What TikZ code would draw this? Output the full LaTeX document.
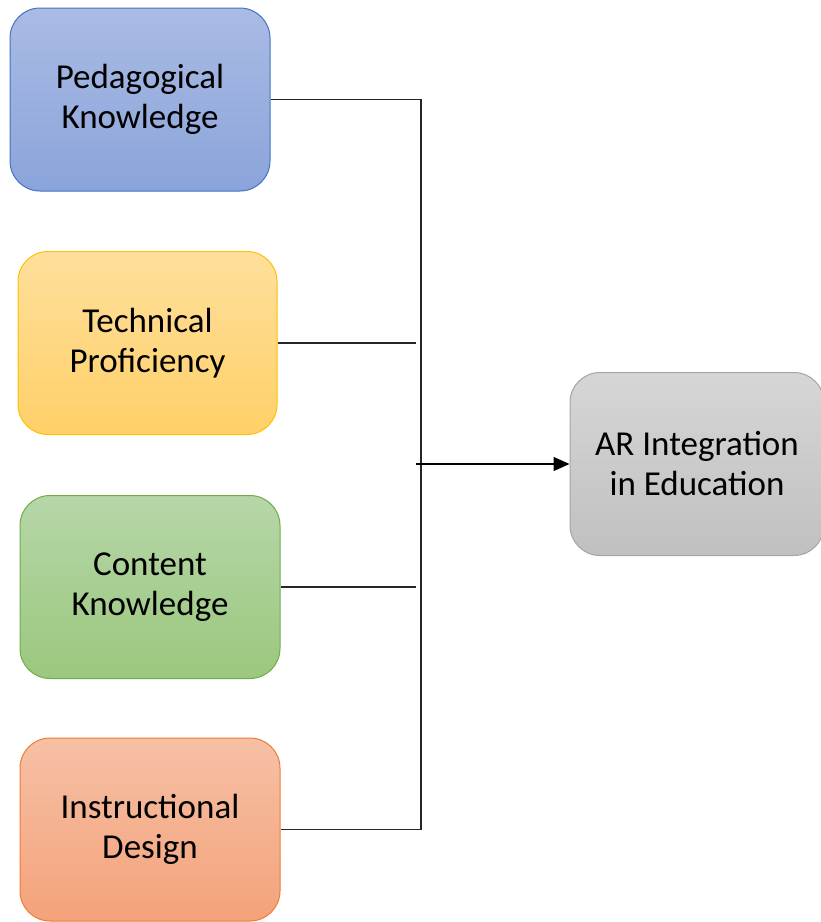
\documentclass[tikz,border=0pt]{standalone}
\usepackage{fontspec}
\setmainfont{Carlito}
\usetikzlibrary{arrows.meta}
\definecolor{bluetop}{HTML}{AABBE4}
\definecolor{bluebot}{HTML}{8AA4DA}
\definecolor{blueline}{HTML}{4472C4}
\definecolor{yeltop}{HTML}{FFDF9C}
\definecolor{yelbot}{HTML}{FFD068}
\definecolor{yelline}{HTML}{FFC000}
\definecolor{grntop}{HTML}{B6D6A8}
\definecolor{grnbot}{HTML}{9BC87E}
\definecolor{grnline}{HTML}{70AD47}
\definecolor{saltop}{HTML}{F6C0A5}
\definecolor{salbot}{HTML}{F4A27A}
\definecolor{salline}{HTML}{ED7D31}
\definecolor{grytop}{HTML}{D6D6D6}
\definecolor{grybot}{HTML}{C0C0C0}
\definecolor{gryline}{HTML}{A5A5A5}
\definecolor{conn}{HTML}{262626}
\tikzset{
  card/.style={rounded corners=30pt, line width=1pt, minimum width=260pt, minimum height=183pt,
    align=center, inner sep=0pt, font=\fontsize{35}{40}\selectfont, text=black},
  link/.style={draw=conn, line width=1.4pt},
}
\begin{document}
\begin{tikzpicture}[x=1pt,y=-1pt]
\useasboundingbox (0,0) rectangle (821,922);
\node[card, draw=blueline, top color=bluetop, bottom color=bluebot] (ped) at (140,99.5) {Pedagogical\\Knowledge};
\node[card, draw=yelline, top color=yeltop, bottom color=yelbot, minimum width=259pt] (tech) at (147.5,343) {Technical\\Proficiency};
\node[card, draw=grnline, top color=grntop, bottom color=grnbot] (cont) at (150,587) {Content\\Knowledge};
\node[card, draw=salline, top color=saltop, bottom color=salbot] (inst) at (150,829.5) {Instructional\\Design};
\node[card, draw=gryline, top color=grytop, bottom color=grybot, minimum width=254pt] (ar) at (697,464) {AR Integration\\in Education};
\coordinate (tend) at (416,343);
\coordinate (cend) at (416,587);
\coordinate (astart) at (416,464);
\draw[link] (ped.east) -- (421,99.5) -- (421,829.5) -- (inst.east);
\draw[link] (tech.east) -- (tend);
\draw[link] (cont.east) -- (cend);
\draw[link, -{Triangle[length=16pt,width=14pt]}, draw=black, fill=black] (astart) -- (ar.west);
\end{tikzpicture}
\end{document}
